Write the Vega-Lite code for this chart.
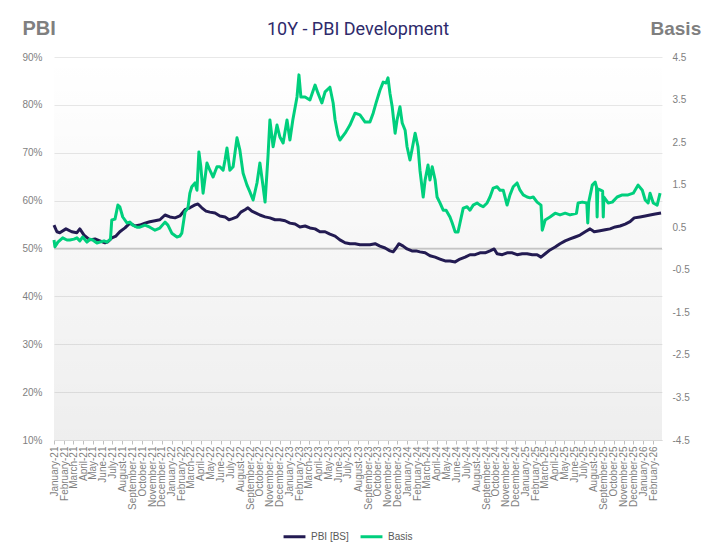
{
  "$schema": "https://vega.github.io/schema/vega-lite/v6.json",
  "width": 608,
  "height": 383,
  "autosize": {"type": "none"},
  "padding": {"left": 54, "top": 57, "right": 42, "bottom": 114},
  "background": "#ffffff",
  "config": {"view": {"stroke": null}, "font": "Liberation Sans"},
  "title": {"text": "10Y - PBI Development", "font": "Roboto", "fontSize": 18, "fontWeight": "normal", "color": "#2e2a6b", "anchor": "middle", "offset": 10, "dy": 31},
  "datasets": {
    "pbi": [
      {"date": "2021-01-01", "series": "PBI [BS]", "value": 54.9},
      {"date": "2021-01-10", "series": "PBI [BS]", "value": 53.5},
      {"date": "2021-01-19", "series": "PBI [BS]", "value": 53.3},
      {"date": "2021-02-07", "series": "PBI [BS]", "value": 54.1},
      {"date": "2021-02-25", "series": "PBI [BS]", "value": 53.5},
      {"date": "2021-03-13", "series": "PBI [BS]", "value": 53.3},
      {"date": "2021-03-22", "series": "PBI [BS]", "value": 54.1},
      {"date": "2021-04-04", "series": "PBI [BS]", "value": 52.8},
      {"date": "2021-04-22", "series": "PBI [BS]", "value": 51.8},
      {"date": "2021-05-08", "series": "PBI [BS]", "value": 52.0},
      {"date": "2021-05-23", "series": "PBI [BS]", "value": 51.6},
      {"date": "2021-06-08", "series": "PBI [BS]", "value": 51.2},
      {"date": "2021-06-17", "series": "PBI [BS]", "value": 51.4},
      {"date": "2021-06-29", "series": "PBI [BS]", "value": 52.2},
      {"date": "2021-07-12", "series": "PBI [BS]", "value": 52.6},
      {"date": "2021-07-24", "series": "PBI [BS]", "value": 53.5},
      {"date": "2021-08-09", "series": "PBI [BS]", "value": 54.3},
      {"date": "2021-08-24", "series": "PBI [BS]", "value": 55.3},
      {"date": "2021-09-09", "series": "PBI [BS]", "value": 54.7},
      {"date": "2021-09-24", "series": "PBI [BS]", "value": 54.9},
      {"date": "2021-10-10", "series": "PBI [BS]", "value": 55.3},
      {"date": "2021-10-25", "series": "PBI [BS]", "value": 55.6},
      {"date": "2021-11-10", "series": "PBI [BS]", "value": 55.8},
      {"date": "2021-11-25", "series": "PBI [BS]", "value": 56.0},
      {"date": "2021-12-11", "series": "PBI [BS]", "value": 57.0},
      {"date": "2021-12-26", "series": "PBI [BS]", "value": 56.6},
      {"date": "2022-01-11", "series": "PBI [BS]", "value": 56.4},
      {"date": "2022-01-26", "series": "PBI [BS]", "value": 56.8},
      {"date": "2022-02-11", "series": "PBI [BS]", "value": 58.1},
      {"date": "2022-02-26", "series": "PBI [BS]", "value": 58.5},
      {"date": "2022-03-14", "series": "PBI [BS]", "value": 59.1},
      {"date": "2022-03-23", "series": "PBI [BS]", "value": 59.3},
      {"date": "2022-04-04", "series": "PBI [BS]", "value": 58.5},
      {"date": "2022-04-17", "series": "PBI [BS]", "value": 57.8},
      {"date": "2022-04-29", "series": "PBI [BS]", "value": 57.6},
      {"date": "2022-05-15", "series": "PBI [BS]", "value": 57.4},
      {"date": "2022-05-30", "series": "PBI [BS]", "value": 56.8},
      {"date": "2022-06-15", "series": "PBI [BS]", "value": 56.6},
      {"date": "2022-06-27", "series": "PBI [BS]", "value": 56.0},
      {"date": "2022-07-06", "series": "PBI [BS]", "value": 56.2},
      {"date": "2022-07-22", "series": "PBI [BS]", "value": 56.6},
      {"date": "2022-08-03", "series": "PBI [BS]", "value": 57.6},
      {"date": "2022-08-16", "series": "PBI [BS]", "value": 58.1},
      {"date": "2022-08-25", "series": "PBI [BS]", "value": 58.5},
      {"date": "2022-09-06", "series": "PBI [BS]", "value": 57.8},
      {"date": "2022-09-19", "series": "PBI [BS]", "value": 57.4},
      {"date": "2022-10-01", "series": "PBI [BS]", "value": 57.0},
      {"date": "2022-10-17", "series": "PBI [BS]", "value": 56.6},
      {"date": "2022-11-01", "series": "PBI [BS]", "value": 56.4},
      {"date": "2022-11-17", "series": "PBI [BS]", "value": 56.0},
      {"date": "2022-12-02", "series": "PBI [BS]", "value": 56.0},
      {"date": "2022-12-18", "series": "PBI [BS]", "value": 55.8},
      {"date": "2023-01-02", "series": "PBI [BS]", "value": 55.3},
      {"date": "2023-01-18", "series": "PBI [BS]", "value": 55.1},
      {"date": "2023-02-02", "series": "PBI [BS]", "value": 54.5},
      {"date": "2023-02-18", "series": "PBI [BS]", "value": 54.7},
      {"date": "2023-03-05", "series": "PBI [BS]", "value": 54.3},
      {"date": "2023-03-21", "series": "PBI [BS]", "value": 54.1},
      {"date": "2023-04-05", "series": "PBI [BS]", "value": 53.5},
      {"date": "2023-04-21", "series": "PBI [BS]", "value": 53.5},
      {"date": "2023-05-06", "series": "PBI [BS]", "value": 53.0},
      {"date": "2023-05-22", "series": "PBI [BS]", "value": 52.6},
      {"date": "2023-06-06", "series": "PBI [BS]", "value": 51.8},
      {"date": "2023-06-22", "series": "PBI [BS]", "value": 51.2},
      {"date": "2023-07-07", "series": "PBI [BS]", "value": 51.0},
      {"date": "2023-07-23", "series": "PBI [BS]", "value": 51.0},
      {"date": "2023-08-07", "series": "PBI [BS]", "value": 50.8},
      {"date": "2023-08-23", "series": "PBI [BS]", "value": 50.8},
      {"date": "2023-09-07", "series": "PBI [BS]", "value": 50.8},
      {"date": "2023-09-23", "series": "PBI [BS]", "value": 51.0},
      {"date": "2023-10-08", "series": "PBI [BS]", "value": 50.5},
      {"date": "2023-10-24", "series": "PBI [BS]", "value": 50.1},
      {"date": "2023-11-08", "series": "PBI [BS]", "value": 49.5},
      {"date": "2023-11-18", "series": "PBI [BS]", "value": 49.3},
      {"date": "2023-11-27", "series": "PBI [BS]", "value": 50.1},
      {"date": "2023-12-06", "series": "PBI [BS]", "value": 51.0},
      {"date": "2023-12-19", "series": "PBI [BS]", "value": 50.5},
      {"date": "2023-12-31", "series": "PBI [BS]", "value": 49.9},
      {"date": "2024-01-15", "series": "PBI [BS]", "value": 49.5},
      {"date": "2024-01-28", "series": "PBI [BS]", "value": 49.5},
      {"date": "2024-02-09", "series": "PBI [BS]", "value": 49.3},
      {"date": "2024-02-25", "series": "PBI [BS]", "value": 49.1},
      {"date": "2024-03-11", "series": "PBI [BS]", "value": 48.5},
      {"date": "2024-03-27", "series": "PBI [BS]", "value": 48.2},
      {"date": "2024-04-11", "series": "PBI [BS]", "value": 47.8},
      {"date": "2024-04-27", "series": "PBI [BS]", "value": 47.4},
      {"date": "2024-05-12", "series": "PBI [BS]", "value": 47.4},
      {"date": "2024-05-28", "series": "PBI [BS]", "value": 47.2},
      {"date": "2024-06-12", "series": "PBI [BS]", "value": 47.8},
      {"date": "2024-06-28", "series": "PBI [BS]", "value": 48.2},
      {"date": "2024-07-13", "series": "PBI [BS]", "value": 48.7},
      {"date": "2024-07-29", "series": "PBI [BS]", "value": 48.7},
      {"date": "2024-08-13", "series": "PBI [BS]", "value": 49.1},
      {"date": "2024-08-29", "series": "PBI [BS]", "value": 49.1},
      {"date": "2024-09-13", "series": "PBI [BS]", "value": 49.5},
      {"date": "2024-09-26", "series": "PBI [BS]", "value": 49.9},
      {"date": "2024-10-05", "series": "PBI [BS]", "value": 48.9},
      {"date": "2024-10-21", "series": "PBI [BS]", "value": 48.7},
      {"date": "2024-11-05", "series": "PBI [BS]", "value": 49.1},
      {"date": "2024-11-21", "series": "PBI [BS]", "value": 49.1},
      {"date": "2024-12-06", "series": "PBI [BS]", "value": 48.7},
      {"date": "2024-12-22", "series": "PBI [BS]", "value": 48.9},
      {"date": "2025-01-06", "series": "PBI [BS]", "value": 48.9},
      {"date": "2025-01-22", "series": "PBI [BS]", "value": 48.7},
      {"date": "2025-02-06", "series": "PBI [BS]", "value": 48.7},
      {"date": "2025-02-18", "series": "PBI [BS]", "value": 48.2},
      {"date": "2025-03-03", "series": "PBI [BS]", "value": 48.9},
      {"date": "2025-03-18", "series": "PBI [BS]", "value": 49.7},
      {"date": "2025-04-03", "series": "PBI [BS]", "value": 50.3},
      {"date": "2025-04-18", "series": "PBI [BS]", "value": 51.0},
      {"date": "2025-05-04", "series": "PBI [BS]", "value": 51.6},
      {"date": "2025-05-19", "series": "PBI [BS]", "value": 52.0},
      {"date": "2025-06-04", "series": "PBI [BS]", "value": 52.4},
      {"date": "2025-06-19", "series": "PBI [BS]", "value": 52.8},
      {"date": "2025-07-05", "series": "PBI [BS]", "value": 53.5},
      {"date": "2025-07-20", "series": "PBI [BS]", "value": 54.1},
      {"date": "2025-08-02", "series": "PBI [BS]", "value": 53.5},
      {"date": "2025-08-20", "series": "PBI [BS]", "value": 53.7},
      {"date": "2025-09-05", "series": "PBI [BS]", "value": 53.9},
      {"date": "2025-09-20", "series": "PBI [BS]", "value": 54.1},
      {"date": "2025-10-06", "series": "PBI [BS]", "value": 54.5},
      {"date": "2025-10-21", "series": "PBI [BS]", "value": 54.7},
      {"date": "2025-11-06", "series": "PBI [BS]", "value": 55.1},
      {"date": "2025-11-21", "series": "PBI [BS]", "value": 55.6},
      {"date": "2025-12-04", "series": "PBI [BS]", "value": 56.4},
      {"date": "2025-12-22", "series": "PBI [BS]", "value": 56.6},
      {"date": "2026-01-07", "series": "PBI [BS]", "value": 56.8},
      {"date": "2026-01-22", "series": "PBI [BS]", "value": 57.0},
      {"date": "2026-02-07", "series": "PBI [BS]", "value": 57.2},
      {"date": "2026-02-25", "series": "PBI [BS]", "value": 57.4}
    ],
    "basis": [
      {"date": "2021-01-01", "series": "Basis", "value": 0.20},
      {"date": "2021-01-04", "series": "Basis", "value": 0.04},
      {"date": "2021-01-13", "series": "Basis", "value": 0.15},
      {"date": "2021-01-28", "series": "Basis", "value": 0.25},
      {"date": "2021-02-10", "series": "Basis", "value": 0.20},
      {"date": "2021-02-19", "series": "Basis", "value": 0.20},
      {"date": "2021-03-04", "series": "Basis", "value": 0.22},
      {"date": "2021-03-13", "series": "Basis", "value": 0.25},
      {"date": "2021-03-22", "series": "Basis", "value": 0.18},
      {"date": "2021-03-31", "series": "Basis", "value": 0.27},
      {"date": "2021-04-13", "series": "Basis", "value": 0.15},
      {"date": "2021-04-22", "series": "Basis", "value": 0.22},
      {"date": "2021-05-01", "series": "Basis", "value": 0.20},
      {"date": "2021-05-14", "series": "Basis", "value": 0.13},
      {"date": "2021-05-23", "series": "Basis", "value": 0.15},
      {"date": "2021-06-05", "series": "Basis", "value": 0.18},
      {"date": "2021-06-14", "series": "Basis", "value": 0.15},
      {"date": "2021-06-25", "series": "Basis", "value": 0.22},
      {"date": "2021-06-29", "series": "Basis", "value": 0.67},
      {"date": "2021-07-09", "series": "Basis", "value": 0.69},
      {"date": "2021-07-18", "series": "Basis", "value": 1.02},
      {"date": "2021-07-24", "series": "Basis", "value": 0.98},
      {"date": "2021-08-02", "series": "Basis", "value": 0.74},
      {"date": "2021-08-15", "series": "Basis", "value": 0.60},
      {"date": "2021-08-24", "series": "Basis", "value": 0.62},
      {"date": "2021-09-02", "series": "Basis", "value": 0.55},
      {"date": "2021-09-15", "series": "Basis", "value": 0.50},
      {"date": "2021-09-24", "series": "Basis", "value": 0.50},
      {"date": "2021-10-10", "series": "Basis", "value": 0.55},
      {"date": "2021-10-25", "series": "Basis", "value": 0.50},
      {"date": "2021-11-10", "series": "Basis", "value": 0.43},
      {"date": "2021-11-25", "series": "Basis", "value": 0.48},
      {"date": "2021-12-11", "series": "Basis", "value": 0.62},
      {"date": "2021-12-20", "series": "Basis", "value": 0.55},
      {"date": "2022-01-01", "series": "Basis", "value": 0.36},
      {"date": "2022-01-17", "series": "Basis", "value": 0.27},
      {"date": "2022-01-26", "series": "Basis", "value": 0.29},
      {"date": "2022-02-01", "series": "Basis", "value": 0.36},
      {"date": "2022-02-11", "series": "Basis", "value": 0.86},
      {"date": "2022-02-20", "series": "Basis", "value": 0.95},
      {"date": "2022-02-26", "series": "Basis", "value": 1.30},
      {"date": "2022-03-04", "series": "Basis", "value": 1.45},
      {"date": "2022-03-14", "series": "Basis", "value": 1.54},
      {"date": "2022-03-20", "series": "Basis", "value": 1.37},
      {"date": "2022-03-26", "series": "Basis", "value": 2.27},
      {"date": "2022-04-01", "series": "Basis", "value": 1.92},
      {"date": "2022-04-08", "series": "Basis", "value": 1.30},
      {"date": "2022-04-20", "series": "Basis", "value": 2.01},
      {"date": "2022-04-29", "series": "Basis", "value": 1.84},
      {"date": "2022-05-09", "series": "Basis", "value": 1.68},
      {"date": "2022-05-21", "series": "Basis", "value": 1.92},
      {"date": "2022-05-30", "series": "Basis", "value": 1.92},
      {"date": "2022-06-09", "series": "Basis", "value": 1.84},
      {"date": "2022-06-15", "series": "Basis", "value": 2.08},
      {"date": "2022-06-21", "series": "Basis", "value": 2.36},
      {"date": "2022-06-30", "series": "Basis", "value": 1.84},
      {"date": "2022-07-10", "series": "Basis", "value": 1.92},
      {"date": "2022-07-22", "series": "Basis", "value": 2.60},
      {"date": "2022-07-31", "series": "Basis", "value": 2.31},
      {"date": "2022-08-10", "series": "Basis", "value": 1.77},
      {"date": "2022-08-22", "series": "Basis", "value": 1.49},
      {"date": "2022-08-31", "series": "Basis", "value": 1.33},
      {"date": "2022-09-10", "series": "Basis", "value": 1.14},
      {"date": "2022-09-22", "series": "Basis", "value": 1.54},
      {"date": "2022-10-01", "series": "Basis", "value": 2.01},
      {"date": "2022-10-11", "series": "Basis", "value": 1.45},
      {"date": "2022-10-17", "series": "Basis", "value": 1.09},
      {"date": "2022-10-26", "series": "Basis", "value": 2.15},
      {"date": "2022-11-01", "series": "Basis", "value": 3.02},
      {"date": "2022-11-11", "series": "Basis", "value": 2.39},
      {"date": "2022-11-23", "series": "Basis", "value": 2.90},
      {"date": "2022-12-02", "series": "Basis", "value": 2.62},
      {"date": "2022-12-12", "series": "Basis", "value": 2.48},
      {"date": "2022-12-24", "series": "Basis", "value": 3.02},
      {"date": "2023-01-02", "series": "Basis", "value": 2.55},
      {"date": "2023-01-11", "series": "Basis", "value": 3.02},
      {"date": "2023-01-24", "series": "Basis", "value": 3.56},
      {"date": "2023-01-30", "series": "Basis", "value": 4.08},
      {"date": "2023-02-05", "series": "Basis", "value": 3.56},
      {"date": "2023-02-18", "series": "Basis", "value": 3.56},
      {"date": "2023-03-05", "series": "Basis", "value": 3.49},
      {"date": "2023-03-21", "series": "Basis", "value": 3.84},
      {"date": "2023-03-30", "series": "Basis", "value": 3.65},
      {"date": "2023-04-11", "series": "Basis", "value": 3.42},
      {"date": "2023-04-21", "series": "Basis", "value": 3.68},
      {"date": "2023-05-06", "series": "Basis", "value": 3.79},
      {"date": "2023-05-16", "series": "Basis", "value": 3.42},
      {"date": "2023-05-22", "series": "Basis", "value": 3.02},
      {"date": "2023-05-31", "series": "Basis", "value": 2.67},
      {"date": "2023-06-06", "series": "Basis", "value": 2.55},
      {"date": "2023-06-22", "series": "Basis", "value": 2.71},
      {"date": "2023-07-07", "series": "Basis", "value": 2.90},
      {"date": "2023-07-23", "series": "Basis", "value": 3.18},
      {"date": "2023-08-07", "series": "Basis", "value": 3.14},
      {"date": "2023-08-23", "series": "Basis", "value": 2.97},
      {"date": "2023-09-07", "series": "Basis", "value": 2.97},
      {"date": "2023-09-17", "series": "Basis", "value": 3.18},
      {"date": "2023-09-26", "series": "Basis", "value": 3.42},
      {"date": "2023-10-08", "series": "Basis", "value": 3.72},
      {"date": "2023-10-18", "series": "Basis", "value": 3.91},
      {"date": "2023-10-27", "series": "Basis", "value": 3.89},
      {"date": "2023-11-02", "series": "Basis", "value": 4.01},
      {"date": "2023-11-08", "series": "Basis", "value": 3.65},
      {"date": "2023-11-15", "series": "Basis", "value": 3.33},
      {"date": "2023-11-24", "series": "Basis", "value": 2.71},
      {"date": "2023-11-30", "series": "Basis", "value": 3.02},
      {"date": "2023-12-09", "series": "Basis", "value": 3.33},
      {"date": "2023-12-16", "series": "Basis", "value": 2.95},
      {"date": "2023-12-25", "series": "Basis", "value": 2.78},
      {"date": "2023-12-31", "series": "Basis", "value": 2.39},
      {"date": "2024-01-09", "series": "Basis", "value": 2.08},
      {"date": "2024-01-15", "series": "Basis", "value": 2.31},
      {"date": "2024-01-25", "series": "Basis", "value": 2.71},
      {"date": "2024-02-03", "series": "Basis", "value": 2.39},
      {"date": "2024-02-09", "series": "Basis", "value": 1.84},
      {"date": "2024-02-19", "series": "Basis", "value": 1.21},
      {"date": "2024-02-25", "series": "Basis", "value": 1.61},
      {"date": "2024-03-05", "series": "Basis", "value": 1.96},
      {"date": "2024-03-11", "series": "Basis", "value": 1.61},
      {"date": "2024-03-18", "series": "Basis", "value": 1.92},
      {"date": "2024-03-27", "series": "Basis", "value": 1.61},
      {"date": "2024-04-02", "series": "Basis", "value": 1.21},
      {"date": "2024-04-11", "series": "Basis", "value": 1.07},
      {"date": "2024-04-21", "series": "Basis", "value": 0.90},
      {"date": "2024-04-30", "series": "Basis", "value": 0.90},
      {"date": "2024-05-12", "series": "Basis", "value": 0.74},
      {"date": "2024-05-19", "series": "Basis", "value": 0.60},
      {"date": "2024-05-28", "series": "Basis", "value": 0.39},
      {"date": "2024-06-06", "series": "Basis", "value": 0.39},
      {"date": "2024-06-12", "series": "Basis", "value": 0.60},
      {"date": "2024-06-22", "series": "Basis", "value": 0.95},
      {"date": "2024-07-04", "series": "Basis", "value": 0.98},
      {"date": "2024-07-13", "series": "Basis", "value": 0.90},
      {"date": "2024-07-23", "series": "Basis", "value": 1.02},
      {"date": "2024-08-04", "series": "Basis", "value": 1.07},
      {"date": "2024-08-13", "series": "Basis", "value": 1.02},
      {"date": "2024-08-23", "series": "Basis", "value": 0.98},
      {"date": "2024-09-04", "series": "Basis", "value": 1.07},
      {"date": "2024-09-13", "series": "Basis", "value": 1.21},
      {"date": "2024-09-23", "series": "Basis", "value": 1.42},
      {"date": "2024-10-05", "series": "Basis", "value": 1.45},
      {"date": "2024-10-14", "series": "Basis", "value": 1.37},
      {"date": "2024-10-24", "series": "Basis", "value": 1.37},
      {"date": "2024-11-05", "series": "Basis", "value": 1.02},
      {"date": "2024-11-14", "series": "Basis", "value": 1.26},
      {"date": "2024-11-24", "series": "Basis", "value": 1.45},
      {"date": "2024-12-06", "series": "Basis", "value": 1.54},
      {"date": "2024-12-15", "series": "Basis", "value": 1.37},
      {"date": "2024-12-25", "series": "Basis", "value": 1.26},
      {"date": "2025-01-06", "series": "Basis", "value": 1.21},
      {"date": "2025-01-15", "series": "Basis", "value": 1.19},
      {"date": "2025-01-25", "series": "Basis", "value": 1.21},
      {"date": "2025-02-06", "series": "Basis", "value": 1.09},
      {"date": "2025-02-18", "series": "Basis", "value": 1.02},
      {"date": "2025-02-22", "series": "Basis", "value": 0.43},
      {"date": "2025-03-03", "series": "Basis", "value": 0.67},
      {"date": "2025-03-18", "series": "Basis", "value": 0.74},
      {"date": "2025-04-03", "series": "Basis", "value": 0.83},
      {"date": "2025-04-18", "series": "Basis", "value": 0.79},
      {"date": "2025-05-04", "series": "Basis", "value": 0.83},
      {"date": "2025-05-19", "series": "Basis", "value": 0.79},
      {"date": "2025-06-08", "series": "Basis", "value": 0.83},
      {"date": "2025-06-13", "series": "Basis", "value": 1.07},
      {"date": "2025-06-26", "series": "Basis", "value": 1.09},
      {"date": "2025-07-10", "series": "Basis", "value": 1.07},
      {"date": "2025-07-13", "series": "Basis", "value": 0.60},
      {"date": "2025-07-16", "series": "Basis", "value": 1.09},
      {"date": "2025-07-27", "series": "Basis", "value": 1.49},
      {"date": "2025-08-05", "series": "Basis", "value": 1.56},
      {"date": "2025-08-09", "series": "Basis", "value": 1.45},
      {"date": "2025-08-11", "series": "Basis", "value": 0.74},
      {"date": "2025-08-13", "series": "Basis", "value": 1.40},
      {"date": "2025-08-22", "series": "Basis", "value": 1.37},
      {"date": "2025-08-28", "series": "Basis", "value": 1.35},
      {"date": "2025-08-30", "series": "Basis", "value": 0.74},
      {"date": "2025-09-01", "series": "Basis", "value": 1.21},
      {"date": "2025-09-14", "series": "Basis", "value": 1.07},
      {"date": "2025-09-27", "series": "Basis", "value": 1.09},
      {"date": "2025-10-12", "series": "Basis", "value": 1.21},
      {"date": "2025-10-28", "series": "Basis", "value": 1.26},
      {"date": "2025-11-15", "series": "Basis", "value": 1.26},
      {"date": "2025-12-01", "series": "Basis", "value": 1.30},
      {"date": "2025-12-16", "series": "Basis", "value": 1.49},
      {"date": "2025-12-29", "series": "Basis", "value": 1.37},
      {"date": "2026-01-07", "series": "Basis", "value": 1.14},
      {"date": "2026-01-16", "series": "Basis", "value": 1.07},
      {"date": "2026-01-22", "series": "Basis", "value": 1.30},
      {"date": "2026-02-01", "series": "Basis", "value": 1.07},
      {"date": "2026-02-13", "series": "Basis", "value": 1.02},
      {"date": "2026-02-22", "series": "Basis", "value": 1.30}
    ]
  },
  "layer": [
    {
      "layer": [
        {
          "data": {"values": [{}]},
          "mark": {"type": "rect", "fill": {"gradient": "linear", "x1": 0, "y1": 0, "x2": 0, "y2": 1, "stops": [{"offset": 0, "color": "rgba(0,0,0,0)"}, {"offset": 1, "color": "rgba(0,0,0,0.065)"}]}},
          "encoding": {"y": {"datum": 90, "type": "quantitative"}, "y2": {"datum": 10}}
        },
        {
          "data": {"values": [{}]},
          "mark": {"type": "rule", "color": "#c4c4c4", "strokeWidth": 1.5},
          "encoding": {"y": {"datum": 50, "type": "quantitative"}}
        },
        {
          "data": {"name": "pbi"},
          "mark": {"type": "line", "strokeWidth": 3, "strokeJoin": "round"},
          "encoding": {
            "x": {
              "field": "date", "type": "temporal",
              "scale": {"type": "utc", "domain": [{"year": 2021, "month": 1, "date": 1, "utc": true}, {"year": 2026, "month": 2, "date": 28, "utc": true}]},
              "axis": {"title": null, "tickCount": {"interval": "month", "step": 1}, "labelExpr": "utcFormat(datum.value, '%B-%y')", "labelAngle": -90, "labelFontSize": 10, "labelColor": "#7f7f7f", "labelOverlap": false, "labelBound": false, "labelFlush": false, "tickSize": 4, "tickColor": "#bfbfbf", "domainColor": "#d9d9d9", "grid": false, "labelPadding": 2}
            },
            "y": {
              "field": "value", "type": "quantitative",
              "scale": {"domain": [10, 90], "nice": false, "zero": false},
              "axis": {"title": "PBI", "titleAngle": 0, "titleAlign": "left", "titleBaseline": "middle", "titleX": -32, "titleY": -29, "titleFontSize": 20, "titleFontWeight": "bold", "titleColor": "#7f7f7f", "values": [10, 20, 30, 40, 50, 60, 70, 80, 90], "labelExpr": "datum.value + '%'", "labelColor": "#7f7f7f", "labelFontSize": 10, "labelPadding": 12, "ticks": false, "domain": false, "grid": true, "gridColor": "#e8e8e8", "gridWidth": 1}
            },
            "color": {
              "field": "series", "type": "nominal",
              "scale": {"domain": ["PBI [BS]", "Basis"], "range": ["#231b52", "#00cf7d"]},
              "legend": {"orient": "none", "legendX": 228, "legendY": 467, "direction": "horizontal", "title": null, "symbolType": "stroke", "symbolStrokeWidth": 3, "symbolSize": 480, "labelFontSize": 10, "labelColor": "#595959", "columnPadding": 5}
            }
          }
        }
      ]
    },
    {
      "data": {"name": "basis"},
      "mark": {"type": "line", "strokeWidth": 3, "strokeJoin": "round"},
      "encoding": {
        "x": {"field": "date", "type": "temporal"},
        "y": {
          "field": "value", "type": "quantitative",
          "scale": {"domain": [-4.5, 4.5], "nice": false, "zero": false},
          "axis": {"orient": "right", "title": "Basis", "titleAngle": 0, "titleAlign": "left", "titleBaseline": "middle", "titleX": -12, "titleY": -29, "titleFontSize": 19, "titleFontWeight": "bold", "titleColor": "#7f7f7f", "values": [-4.5, -3.5, -2.5, -1.5, -0.5, 0.5, 1.5, 2.5, 3.5, 4.5], "labelExpr": "datum.value + ''", "labelColor": "#7f7f7f", "labelFontSize": 10, "labelPadding": 10, "ticks": false, "domain": false, "grid": false}
        },
        "color": {"field": "series", "type": "nominal"}
      }
    }
  ],
  "resolve": {"scale": {"y": "independent"}}
}
